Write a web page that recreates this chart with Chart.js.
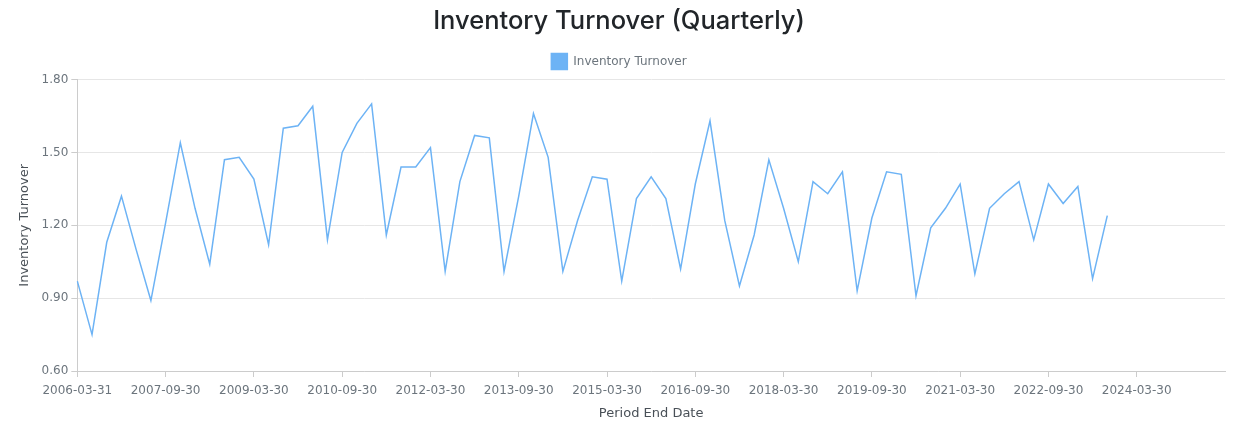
<!DOCTYPE html>
<html>
<head>
<meta charset="utf-8">
<title>Inventory Turnover (Quarterly)</title>
<script src="https://cdn.jsdelivr.net/npm/chart.js@4.4.0/dist/chart.umd.min.js"></script>
<style>
    html, body { margin: 0; padding: 0; background: #ffffff; }
    #chartArea { width: 1239px; height: 435px; position: relative; }
</style>
</head>
<body>
<div id="chartArea"><canvas id="chartArea-canvas" role="img" aria-label="Inventory Turnover (Quarterly)"></canvas></div>
<script>
    // period end dates, one per quarter (the last few have no value yet)
    const periodLabels = [
        "2006-03-31", "2006-06-30", "2006-09-30", "2006-12-30",
        "2007-03-30", "2007-06-30", "2007-09-30", "2007-12-30",
        "2008-03-30", "2008-06-30", "2008-09-30", "2008-12-30",
        "2009-03-30", "2009-06-30", "2009-09-30", "2009-12-30",
        "2010-03-30", "2010-06-30", "2010-09-30", "2010-12-30",
        "2011-03-30", "2011-06-30", "2011-09-30", "2011-12-30",
        "2012-03-30", "2012-06-30", "2012-09-30", "2012-12-30",
        "2013-03-30", "2013-06-30", "2013-09-30", "2013-12-30",
        "2014-03-30", "2014-06-30", "2014-09-30", "2014-12-30",
        "2015-03-30", "2015-06-30", "2015-09-30", "2015-12-30",
        "2016-03-30", "2016-06-30", "2016-09-30", "2016-12-30",
        "2017-03-30", "2017-06-30", "2017-09-30", "2017-12-30",
        "2018-03-30", "2018-06-30", "2018-09-30", "2018-12-30",
        "2019-03-30", "2019-06-30", "2019-09-30", "2019-12-30",
        "2020-03-30", "2020-06-30", "2020-09-30", "2020-12-30",
        "2021-03-30", "2021-06-30", "2021-09-30", "2021-12-30",
        "2022-03-30", "2022-06-30", "2022-09-30", "2022-12-30",
        "2023-03-30", "2023-06-30", "2023-09-30", "2023-12-30",
        "2024-03-30", "2024-06-30", "2024-09-30", "2024-12-30",
        "2025-03-30", "2025-06-30", "2025-09-30"
    ];

    const turnoverValues = [
        0.97, 0.75, 1.13, 1.32, 1.10, 0.89, 1.21, 1.54,
        1.27, 1.04, 1.47, 1.48, 1.39, 1.12, 1.60, 1.61,
        1.69, 1.14, 1.50, 1.62, 1.70, 1.16, 1.44, 1.44,
        1.52, 1.01, 1.38, 1.57, 1.56, 1.01, 1.32, 1.66,
        1.48, 1.01, 1.22, 1.40, 1.39, 0.97, 1.31, 1.40,
        1.31, 1.02, 1.37, 1.63, 1.22, 0.95, 1.16, 1.47,
        1.27, 1.05, 1.38, 1.33, 1.42, 0.93, 1.23, 1.42,
        1.41, 0.91, 1.19, 1.27, 1.37, 1.00, 1.27, 1.33,
        1.38, 1.14, 1.37, 1.29, 1.36, 0.98, 1.24
    ];

    const yTicks = [0.60, 0.90, 1.20, 1.50, 1.80];

    const lineColor = "#6db3f5";
    const textColor = "#6c757d";
    const tickFont = { family: "'DejaVu Sans', Verdana, sans-serif", size: 12 };

    // pad the series with nulls for quarters that have no figure
    const seriesData = periodLabels.map((l, i) => i < turnoverValues.length ? turnoverValues[i] : null);

    const canvas = document.getElementById("chartArea-canvas");
    const chartJs = new Chart(canvas, {
        type: "line",
        data: {
            labels: periodLabels,
            datasets: [
                {
                    label: "Inventory Turnover",
                    data: seriesData,
                    borderColor: lineColor,
                    backgroundColor: lineColor,
                    borderWidth: 1.5,
                    pointRadius: 0,
                    pointHoverRadius: 4,
                    tension: 0,
                    fill: false,
                    spanGaps: false
                }
            ]
        },
        options: {
            responsive: true,
            maintainAspectRatio: false,
            animation: false,
            layout: {
                padding: { left: 13, right: 14, top: 0, bottom: 10 }
            },
            plugins: {
                title: {
                    display: true,
                    text: "Inventory Turnover (Quarterly)",
                    color: "#212529",
                    font: { family: "Inter, 'Noto Sans', sans-serif", size: 25.5, weight: "500" },
                    padding: { top: 6, bottom: 7 }
                },
                legend: {
                    position: "top",
                    labels: {
                        color: textColor,
                        boxWidth: 16,
                        boxHeight: 16,
                        padding: 10,
                        font: tickFont
                    }
                },
                tooltip: { enabled: true }
            },
            scales: {
                x: {
                    offset: false,
                    grid: {
                        display: true,
                        drawOnChartArea: false,
                        drawTicks: true,
                        tickLength: 6,
                        color: "#cccccc"
                    },
                    border: { color: "#cccccc" },
                    ticks: {
                        color: textColor,
                        font: tickFont,
                        padding: 7,
                        autoSkip: false,
                        maxRotation: 0,
                        minRotation: 0,
                        // one label every six quarters, as on the original
                        callback: function (value, index) {
                            return (index % 6 === 0 && index < 78) ? periodLabels[index] : null;
                        }
                    },
                    title: {
                        display: true,
                        text: "Period End Date",
                        color: "#495057",
                        font: { family: "'DejaVu Sans', Verdana, sans-serif", size: 13 },
                        padding: { top: 0 }
                    }
                },
                y: {
                    min: 0.60,
                    max: 1.80,
                    afterBuildTicks: axis => {
                        axis.ticks = yTicks.map(v => ({ value: v }));
                    },
                    grid: {
                        color: "#e6e6e6",
                        tickLength: 6,
                        tickColor: "#cccccc"
                    },
                    border: { color: "#cccccc" },
                    ticks: {
                        color: textColor,
                        font: tickFont,
                        callback: value => value.toFixed(2)
                    },
                    title: {
                        display: true,
                        text: "Inventory Turnover",
                        color: "#495057",
                        font: { family: "'DejaVu Sans', Verdana, sans-serif", size: 13 },
                        padding: { bottom: 6 }
                    }
                }
            }
        }
    });
</script>
</body>
</html>
